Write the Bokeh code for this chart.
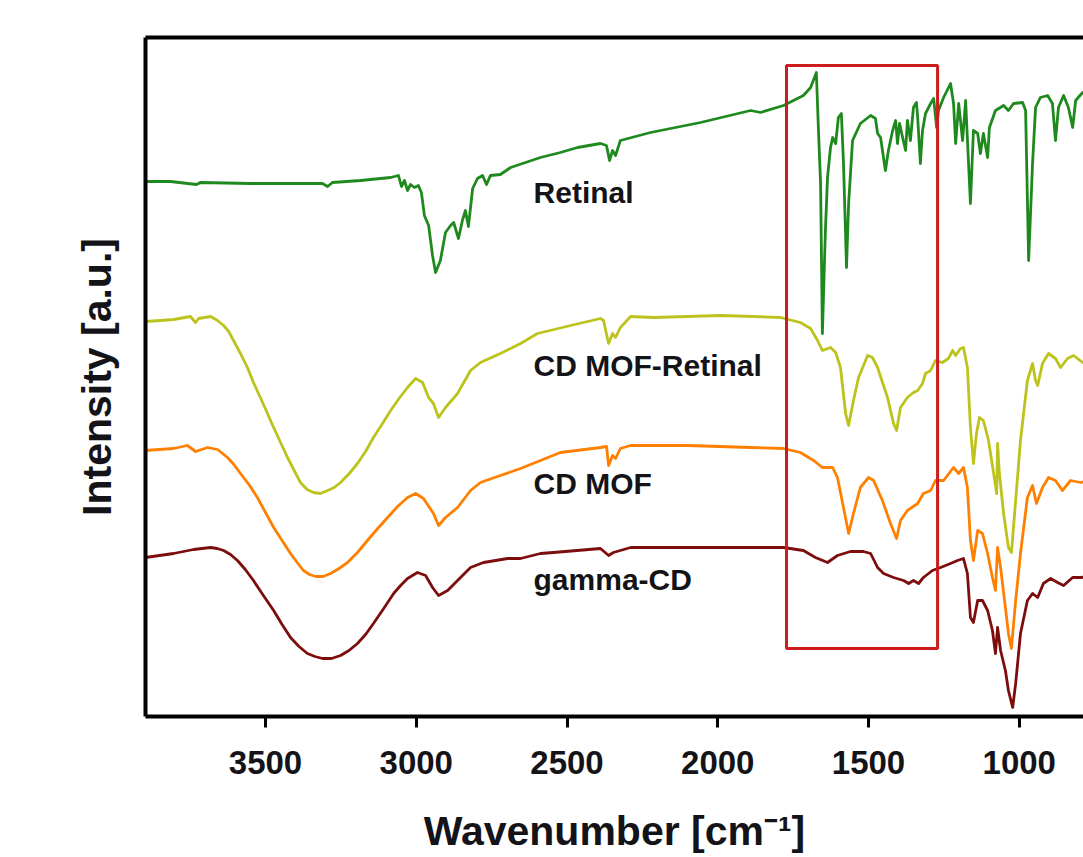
from bokeh.plotting import figure
from bokeh.models import Range1d, FixedTicker, LinearAxis
from bokeh.core.properties import value
from bokeh.embed import file_html
from bokeh.resources import INLINE

# ---------------- data (wavenumber cm^-1, intensity a.u. with stacking offsets) ----------------
retinal_w = [3898, 3815, 3729, 3716, 3550, 3384, 3311, 3294, 3278, 3185, 3085, 3059, 3049, 3039, 3029, 3019,
             3006, 2993, 2983, 2973, 2959, 2946, 2936, 2920, 2903, 2886, 2876, 2860, 2847, 2837, 2827, 2813,
             2797, 2780, 2767, 2754, 2721, 2687, 2588, 2522, 2465, 2389, 2369, 2359, 2349, 2339, 2323, 2223,
             2057, 1891, 1858, 1782, 1716, 1692, 1673, 1666, 1659, 1653, 1643, 1636, 1626, 1619, 1609, 1600,
             1590, 1583, 1573, 1566, 1553, 1527, 1493, 1477, 1470, 1460, 1444, 1434, 1420, 1410, 1404, 1397,
             1387, 1377, 1371, 1361, 1351, 1341, 1337, 1328, 1321, 1311, 1294, 1284, 1274, 1268, 1251, 1228,
             1218, 1211, 1201, 1188, 1178, 1162, 1152, 1138, 1129, 1119, 1105, 1099, 1079, 1052, 1036, 1019,
             989, 979, 969, 956, 946, 930, 906, 890, 880, 870, 853, 837, 823, 813, 790, 760]
retinal_i = [535, 535, 532, 534, 533, 533, 533, 530, 534, 536, 539, 541, 530, 536, 526, 532,
             529, 531, 524, 501, 491, 461, 444, 456, 484, 491, 494, 478, 496, 506, 490, 528,
             538, 541, 532, 541, 542, 549, 559, 564, 569, 573, 571, 556, 566, 561, 576, 584,
             594, 606, 604, 611, 621, 629, 644, 586, 533, 383, 486, 539, 569, 579, 573, 599,
             603, 553, 449, 513, 576, 593, 601, 598, 583, 579, 546, 566, 586, 596, 573, 593,
             579, 566, 596, 576, 609, 614, 599, 553, 586, 603, 613, 618, 589, 606, 619, 633,
             613, 573, 613, 576, 616, 513, 586, 583, 563, 583, 559, 589, 606, 611, 606, 613,
             614, 606, 456, 553, 609, 619, 621, 613, 576, 609, 621, 609, 589, 616, 624, 626]

mof_ret_w = [3898, 3848, 3805, 3749, 3732, 3722, 3682, 3659, 3639, 3622, 3606, 3583, 3560, 3540, 3517, 3495,
             3473, 3450, 3427, 3405, 3384, 3362, 3341, 3318, 3294, 3272, 3251, 3222, 3195, 3168, 3142, 3114,
             3085, 3057, 3029, 3002, 2979, 2959, 2943, 2926, 2903, 2863, 2820, 2787, 2721,
             2654, 2598, 2488, 2389, 2379, 2362, 2349, 2339, 2323, 2289, 2213, 2100, 1991, 1881, 1792, 1726,
             1692, 1669, 1653, 1626, 1609, 1593, 1576, 1566, 1550, 1533, 1503, 1487, 1470, 1437, 1417, 1407,
             1394, 1371, 1351, 1337, 1321, 1311, 1294, 1278, 1255, 1235, 1221, 1211, 1195, 1185, 1172, 1162,
             1152, 1142, 1132, 1119, 1102, 1085, 1075, 1072, 1066, 1052, 1036, 1026, 1012, 996, 973, 956,
             946, 939, 923, 903, 880, 863, 840, 820, 790, 760]
mof_ret_i = [395, 396, 397, 400, 394, 398, 400, 396, 391, 385, 376, 363, 349, 334, 319, 304,
             289, 274, 259, 246, 234, 227, 224, 223, 226, 229, 234, 243, 253, 265, 279, 292,
             306, 318, 329, 338, 334, 319, 313, 299, 309, 323, 346, 354, 363,
             373, 383, 391, 398, 396, 373, 383, 379, 389, 400, 399, 400, 401, 400, 399, 394,
             388, 376, 366, 369, 364, 349, 303, 291, 316, 339, 361, 359, 349, 319, 293, 286,
             309, 319, 324, 326, 333, 343, 346, 356, 354, 358, 366, 361, 368, 369, 349, 289,
             253, 283, 299, 296, 276, 243, 223, 273, 243, 203, 169, 164, 216, 276, 336, 353,
             336, 331, 353, 363, 358, 349, 358, 361, 354, 356]

mof_w = [3898, 3805, 3759, 3732, 3692, 3659, 3626, 3605, 3583, 3555, 3527, 3500, 3473, 3445, 3417, 3395,
         3374, 3354, 3334, 3309, 3284, 3256, 3228, 3195, 3162,
         3128, 3095, 3062, 3029, 3002, 2976, 2943, 2926, 2903, 2863, 2820, 2787, 2721, 2654, 2588, 2522, 2389, 2369,
         2362, 2349, 2339, 2323, 2289, 2100, 1891, 1782, 1726, 1682, 1653, 1619, 1603, 1583, 1566, 1550,
         1527, 1500, 1483, 1454, 1427, 1407, 1394, 1371, 1337, 1318, 1294, 1278, 1251, 1218, 1201, 1185,
         1172, 1162, 1152, 1138, 1122, 1105, 1089, 1079, 1072, 1062, 1046, 1036, 1026, 1012, 996, 973,
         956, 943, 923, 903, 880, 857, 830, 797, 765]
mof_i = [266, 268, 271, 265, 269, 267, 259, 252, 243, 232, 219, 204, 189, 176, 163, 154,
         146, 142, 140, 140, 143, 148, 154, 164, 176,
         188, 199, 210, 219, 223, 218, 203, 191, 199, 209, 226, 234, 241, 248, 256, 264, 269, 270,
         251, 261, 258, 268, 271, 271, 269, 268, 264, 256, 249, 249, 239, 209, 183, 203,
         229, 239, 236, 216, 193, 178, 196, 206, 213, 223, 226, 236, 236, 249, 243, 249,
         229, 176, 156, 186, 183, 163, 139, 126, 169, 149, 109, 83, 68, 116, 163, 219,
         231, 213, 229, 239, 236, 226, 236, 234, 236]

gcd_w = [3898, 3805, 3739, 3682, 3660, 3639, 3616, 3593, 3567, 3540, 3507, 3473, 3445, 3417, 3389, 3361,
         3336, 3311, 3281, 3251, 3223, 3195, 3168, 3142, 3108, 3075, 3052, 3029,
         2996, 2969, 2946, 2926, 2896, 2863, 2820, 2777, 2697, 2654, 2588, 2545, 2389, 2362, 2346, 2289,
         1991, 1891, 1782, 1716, 1676, 1636, 1603, 1560, 1517, 1493, 1470, 1450, 1417, 1384, 1367, 1351,
         1334, 1318, 1288, 1261, 1228, 1205, 1185, 1172, 1162, 1152, 1138, 1122, 1105, 1089, 1079, 1072,
         1062, 1046, 1036, 1022, 1012, 996, 973, 956, 939, 920, 896, 873, 853, 823, 797, 765]
gcd_i = [159, 163, 167, 169, 168, 166, 162, 156, 147, 136, 121, 106, 92, 79, 70, 63,
         60, 58, 58, 61, 66, 73, 82, 93, 108, 123, 131, 138,
         144, 141, 129, 121, 126, 136, 149, 154, 158, 158, 163, 164, 168, 161, 164, 169,
         169, 169, 169, 166, 159, 154, 161, 165, 165, 163, 149, 143, 139, 136, 133, 136,
         133, 139, 146, 149, 153, 156, 158, 143, 99, 94, 116, 116, 106, 86, 63, 89,
         66, 46, 26, 9, 33, 83, 116, 123, 119, 133, 138, 134, 131, 139, 139, 140]

series_names = ["Retinal", "CD MOF-Retinal", "CD MOF", "gamma-CD"]
label_w = [2611, 2611, 2611, 2611]
label_i = [524, 351, 233, 137]

x_ticks = [3500, 3000, 2500, 2000, 1500, 1000]
box_left, box_right = [1772], [1271]
box_top, box_bottom = [651], [68]

# ---------------- figure ----------------
FONT = "Liberation Sans"
p = figure(width=1083, height=856, output_backend="svg", toolbar_location=None,
           x_range=Range1d(3898, 787), y_range=Range1d(0, 679),
           min_border_left=145, min_border_right=0, min_border_top=37, min_border_bottom=140)
p.background_fill_color = "white"
p.border_fill_color = "white"
p.outline_line_color = None
p.xgrid.visible = False
p.ygrid.visible = False

colors = ["#1e8a1e", "#bcc31c", "#ff8000", "#7d0c0c"]
for w, i, c in [(retinal_w, retinal_i, colors[0]), (mof_ret_w, mof_ret_i, colors[1]),
                (mof_w, mof_i, colors[2]), (gcd_w, gcd_i, colors[3])]:
    p.line(w, i, line_color=c, line_width=2.8, line_join="round")

p.quad(left=box_left, right=box_right, top=box_top, bottom=box_bottom,
       fill_color=None, line_color="#cc1c1c", line_width=3)

p.text(x=label_w, y=label_i, text=series_names, text_font=value(FONT), text_font_style="bold",
       text_font_size="30px", text_color="#141418", text_baseline="middle", text_align="left")

# x axis
xa = p.xaxis[0]
xa.ticker = FixedTicker(ticks=x_ticks, minor_ticks=[])
xa.axis_line_width = 4
xa.axis_line_color = "black"
xa.major_tick_out = 11
xa.major_tick_in = 0
xa.major_tick_line_width = 3
xa.minor_tick_line_color = None
xa.major_label_text_font = FONT
xa.major_label_text_font_style = "bold"
xa.major_label_text_font_size = "33px"
xa.major_label_text_color = "#141418"
xa.major_label_standoff = 23
xa.axis_label = "Wavenumber [cm\u207b\u00b9]"
xa.axis_label_text_font = FONT
xa.axis_label_text_font_style = "bold"
xa.axis_label_text_font_size = "41px"
xa.axis_label_text_color = "#141418"
xa.axis_label_standoff = 31

# y axis
ya = p.yaxis[0]
ya.ticker = FixedTicker(ticks=[])
ya.axis_line_width = 4
ya.axis_line_color = "black"
ya.major_tick_line_color = None
ya.minor_tick_line_color = None
ya.major_label_text_font_size = "0px"
ya.axis_label = "Intensity [a.u.]"
ya.axis_label_text_font = FONT
ya.axis_label_text_font_style = "bold"
ya.axis_label_text_font_size = "41px"
ya.axis_label_text_color = "#141418"
ya.axis_label_standoff = 26

# top border
top = LinearAxis(ticker=FixedTicker(ticks=[]), axis_line_width=4, axis_line_color="black",
                 major_tick_line_color=None, minor_tick_line_color=None,
                 major_label_text_font_size="0px")
p.add_layout(top, "above")

open("out.html", "w").write(file_html(p, INLINE))
